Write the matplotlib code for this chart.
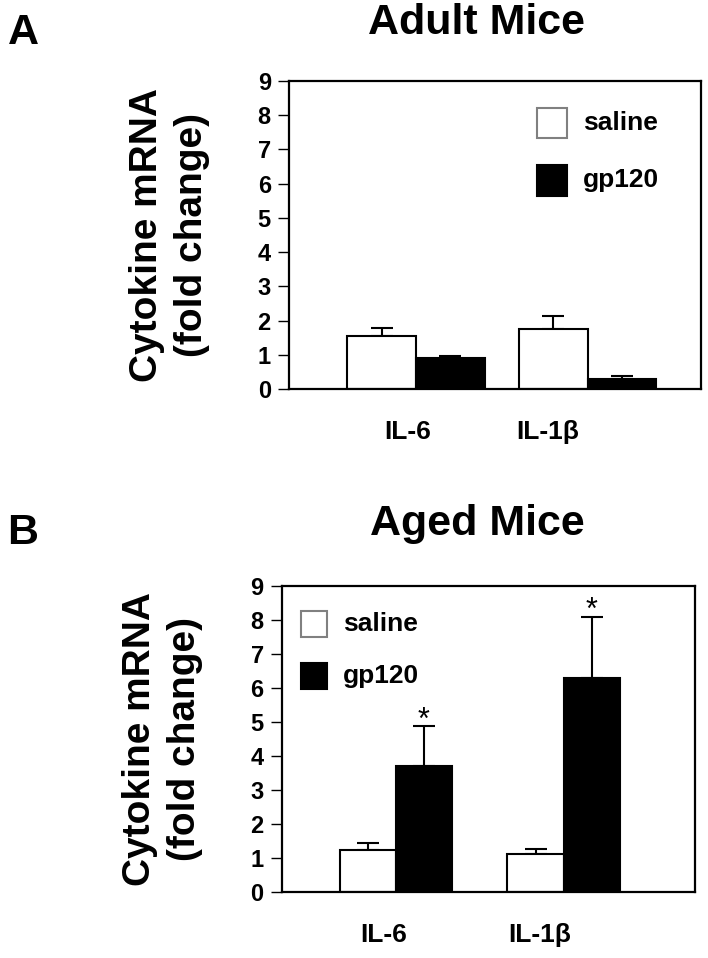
import matplotlib.pyplot as plt
import numpy as np

plt.rcParams['font.family'] = ['Liberation Sans', 'DejaVu Sans']
plt.rcParams['font.weight'] = 'bold'

cytokines = ["IL-6", "IL-1\u03b2"]
groups = ["saline", "gp120"]

# Adult mice (panel A)
adult_saline = [1.55, 1.74]
adult_saline_err = [0.22, 0.40]
adult_gp120 = [0.90, 0.30]
adult_gp120_err = [0.05, 0.07]

# Aged mice (panel B)
aged_saline = [1.23, 1.13]
aged_saline_err = [0.20, 0.12]
aged_gp120 = [3.70, 6.30]
aged_gp120_err = [1.17, 1.80]
aged_signif = [True, True]

yticks = list(range(0, 10))


def draw_panel(ax, saline, saline_err, gp, gp_err, width, xlim, label_shift,
               legend_pos, signif=None):
    x = np.arange(len(cytokines))
    ax.bar(x - width / 2, saline, width, color="white", edgecolor="black", linewidth=1.5, zorder=2)
    ax.bar(x + width / 2, gp, width, color="black", edgecolor="black", linewidth=1.5, zorder=2)
    ax.errorbar(x - width / 2, saline, yerr=[np.zeros(len(x)), saline_err], fmt="none",
                ecolor="black", elinewidth=1.5, capsize=8, capthick=1.5, zorder=1)
    ax.errorbar(x + width / 2, gp, yerr=[np.zeros(len(x)), gp_err], fmt="none",
                ecolor="black", elinewidth=1.5, capsize=8, capthick=1.5, zorder=1)
    if signif is not None:
        for i in range(len(x)):
            if signif[i]:
                ax.text(x[i] + width / 2, gp[i] + gp_err[i] + 0.16, "*", ha="center",
                        va="center", fontsize=22, fontweight="normal")

    ax.set_xlim(*xlim)
    ax.set_ylim(0, 9)
    ax.set_yticks(yticks)
    ax.set_yticklabels([str(t) for t in yticks], fontsize=17, fontweight="bold")
    ax.tick_params(axis="y", length=8, width=1, pad=5)
    ax.set_xticks([])
    for s in ax.spines.values():
        s.set_linewidth(1.6)

    for i, name in enumerate(cytokines):
        ax.text(x[i] + label_shift[i], -0.14, name, transform=ax.get_xaxis_transform(),
                ha="center", va="center", fontsize=19, fontweight="bold")

    ax.set_ylabel("Cytokine mRNA\n(fold change)", fontsize=28, fontweight="bold",
                  labelpad=34, linespacing=1.33)

    # legend drawn as boxes + text
    lx, ly1, ly2, bw, bh = legend_pos
    for ly, fc, ec, name in [(ly1, "white", "gray", groups[0]), (ly2, "black", "black", groups[1])]:
        ax.add_patch(plt.Rectangle((lx, ly), bw, bh, transform=ax.transAxes,
                                   facecolor=fc, edgecolor=ec, linewidth=1.5))
        ax.text(lx + bw + 0.04, ly + bh / 2, name, transform=ax.transAxes,
                ha="left", va="center", fontsize=19, fontweight="bold")


fig = plt.figure(figsize=(7.08, 9.58), dpi=100)

axA = fig.add_axes([0.408, 0.594, 0.582, 0.3215])
draw_panel(axA, adult_saline, adult_saline_err, adult_gp120, adult_gp120_err,
           width=0.40, xlim=(-0.74, 1.66), label_shift=[-0.05, -0.23],
           legend_pos=(0.601, 0.815, 0.628, 0.073, 0.098))

axB = fig.add_axes([0.398, 0.0689, 0.583, 0.3194])
draw_panel(axB, aged_saline, aged_saline_err, aged_gp120, aged_gp120_err,
           width=0.335, xlim=(-0.68, 1.78), label_shift=[-0.07, -0.14],
           legend_pos=(0.046, 0.834, 0.664, 0.063, 0.085), signif=aged_signif)

fig.text(477 / 708, 1 - 23 / 958, "Adult Mice", ha="center", va="center", fontsize=31, fontweight="bold")
fig.text(477 / 708, 1 - 524 / 958, "Aged Mice", ha="center", va="center", fontsize=31, fontweight="bold")
fig.text(23 / 708, 1 - 33 / 958, "A", ha="center", va="center", fontsize=31, fontweight="bold")
fig.text(23 / 708, 1 - 533 / 958, "B", ha="center", va="center", fontsize=31, fontweight="bold")

fig.savefig("out.png", dpi=100)
